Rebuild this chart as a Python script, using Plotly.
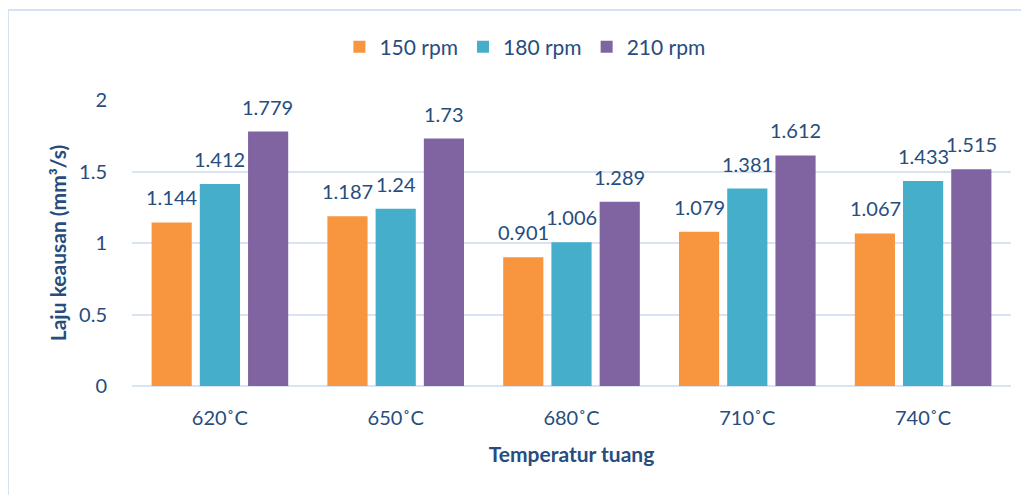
import plotly.graph_objects as go

categories = ["620˚C", "650˚C", "680˚C", "710˚C", "740˚C"]
series_names = ["150 rpm", "180 rpm", "210 rpm"]
rpm150 = [1.144, 1.187, 0.901, 1.079, 1.067]
rpm180 = [1.412, 1.24, 1.006, 1.381, 1.433]
rpm210 = [1.779, 1.73, 1.289, 1.612, 1.515]
y_ticks = [0, 0.5, 1, 1.5, 2]
y_tick_labels = ["0", "0.5", "1", "1.5", "2"]

series_values = [rpm150, rpm180, rpm210]
colors = ["#F7963F", "#45AECA", "#8064A2"]

# page body has an 8px margin; figure origin sits at (8, 8) in the window
OFF = 8
W, H = 1029 - OFF, 495 - OFF
L, R, T, B = 132 - OFF, 18, 100 - OFF, 109
FONT = "Lato"
TXT = "#264D7E"
FS = 20

fig = go.Figure()
for name, vals, c in zip(series_names, series_values, colors):
    fig.add_trace(go.Bar(
        x=categories, y=vals, name=name,
        marker=dict(color=c, line=dict(width=0)),
    ))

# value labels above bars
slot_px = 48
for i, vals in enumerate(series_values):
    for cat, v in zip(categories, vals):
        fig.add_annotation(
            x=cat, y=v, xref="x", yref="y",
            text=f"{v:g}", showarrow=False,
            xshift=(i - 1) * slot_px, yshift=11,
            yanchor="bottom", xanchor="center",
            font=dict(family=FONT, size=FS, color=TXT),
        )

pw = W - L - R
ph = H - T - B
# chart-area border (light blue), cropped at right and bottom
bx = 8 - OFF
by = 10 - OFF
bx0 = (bx - L) / pw
by0 = (H - B - by) / ph
fig.add_shape(type="line", xref="paper", yref="paper",
              x0=bx0, x1=(W + 20 - L) / pw, y0=by0, y1=by0,
              line=dict(color="#D6E2F2", width=2))
fig.add_shape(type="line", xref="paper", yref="paper",
              x0=bx0, x1=bx0, y0=by0, y1=(H - B - (H + 20)) / ph,
              line=dict(color="#D6E2F2", width=2))

fig.update_layout(
    width=W, height=H,
    margin=dict(l=L, r=R, t=T, b=B),
    paper_bgcolor="white", plot_bgcolor="white",
    barmode="group", bargap=0.177, bargroupgap=0.167,
    font=dict(family=FONT, size=FS, color=TXT),
    showlegend=True,
    legend=dict(orientation="h", x=0.447, xanchor="center",
                y=(H - B - (47 - OFF)) / ph, yanchor="middle",
                font=dict(family=FONT, size=21, color=TXT),
                itemwidth=30, tracegroupgap=0,
                bgcolor="rgba(0,0,0,0)"),
    xaxis=dict(
        showgrid=False, showline=False, zeroline=False,
        ticks="outside", ticklen=14, tickcolor="rgba(0,0,0,0)",
        tickfont=dict(family=FONT, size=FS, color=TXT),
        title=dict(text="<b>Temperatur tuang</b>", standoff=19,
                   font=dict(family=FONT, size=21, color=TXT)),
    ),
    yaxis=dict(
        range=[0, 2], tickvals=y_ticks, ticktext=y_tick_labels,
        showgrid=True, gridcolor="#D9E3F1", gridwidth=2,
        zeroline=True, zerolinecolor="#D9E3F1", zerolinewidth=2,
        showline=False,
        ticks="outside", ticklen=20, tickcolor="rgba(0,0,0,0)",
        tickfont=dict(family=FONT, size=FS, color=TXT),
        title=dict(text="<b>Laju keausan (mm³/s)</b>", standoff=6,
                   font=dict(family=FONT, size=21, color=TXT)),
    ),
)

fig.write_html("out.html")
